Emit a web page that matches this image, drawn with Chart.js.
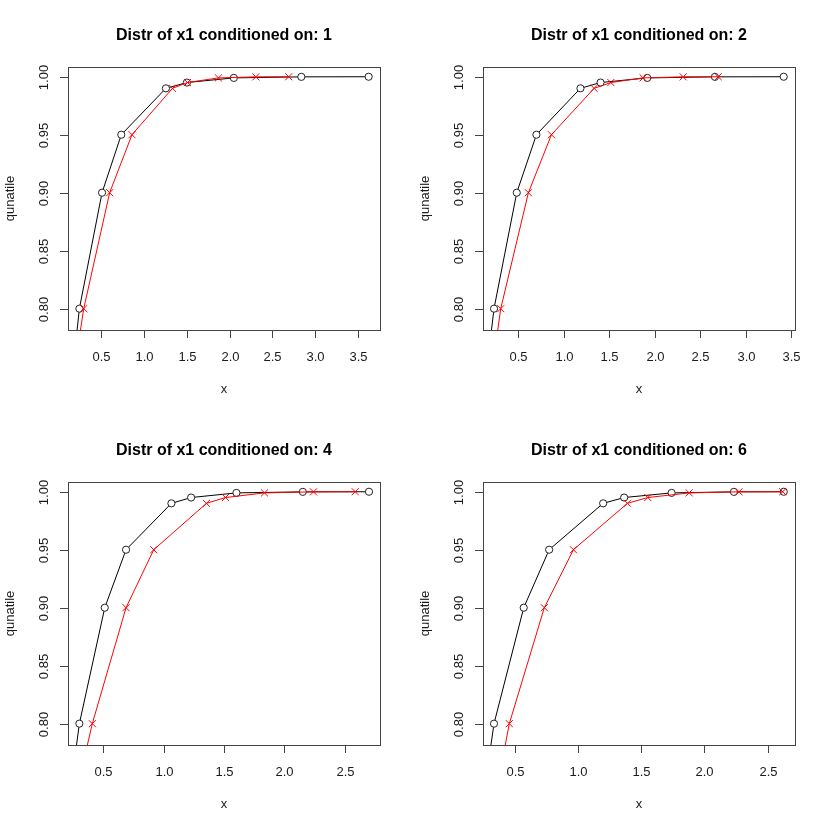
<!DOCTYPE html>
<html>
<head>
<meta charset="utf-8">
<script src="https://cdn.jsdelivr.net/npm/chart.js@4"></script>
<style>
    body { margin: 0; background: #fff; }
    .grid { position: relative; width: 830px; height: 830px; }
    .panel { position: absolute; width: 415px; height: 415px; }
</style>
</head>
<body>
<div class="grid" id="grid"></div>
<script>
// quantile levels (y) and the x value of each level, per conditioning value
const conditions = [1, 2, 4, 6];
const quantiles = [0.75, 0.8, 0.9, 0.95, 0.99, 0.995, 0.999, 0.9999, 1];

const black1 = [0.17, 0.243, 0.508, 0.733, 1.255, 1.500, 2.049, 2.838, 3.625];
const red1   = [0.19, 0.294, 0.597, 0.858, 1.332, 1.507, 1.869, 2.306, 2.691];
const black2 = [0.16, 0.236, 0.486, 0.702, 1.186, 1.407, 1.920, 2.664, 3.420];
const red2   = [0.22, 0.310, 0.614, 0.867, 1.336, 1.520, 1.875, 2.315, 2.700];
const black4 = [0.24, 0.304, 0.514, 0.690, 1.065, 1.228, 1.603, 2.152, 2.699];
const red4   = [0.30, 0.411, 0.690, 0.919, 1.355, 1.512, 1.835, 2.240, 2.585];
const black6 = [0.27, 0.336, 0.571, 0.772, 1.199, 1.365, 1.740, 2.233, 2.627];
const red6   = [0.37, 0.457, 0.734, 0.964, 1.391, 1.552, 1.879, 2.273, 2.619];

const xTicksWide = [0.5, 1.0, 1.5, 2.0, 2.5, 3.0, 3.5];
const xTicksNarrow = [0.5, 1.0, 1.5, 2.0, 2.5];
const yTicks = [0.80, 0.85, 0.90, 0.95, 1.00];

const panels = [
    { cond: conditions[0], black: black1, red: red1, xTicks: xTicksWide, xMin: 0.11, xMax: 3.758, left: 0, top: 0 },
    { cond: conditions[1], black: black2, red: red2, xTicks: xTicksWide, xMin: 0.115, xMax: 3.544, left: 415, top: 0 },
    { cond: conditions[2], black: black4, red: red4, xTicks: xTicksNarrow, xMin: 0.21, xMax: 2.79, left: 0, top: 415 },
    { cond: conditions[3], black: black6, red: red6, xTicks: xTicksNarrow, xMin: 0.249, xMax: 2.716, left: 415, top: 415 },
];

const FONT = '"Liberation Sans", Arial, Helvetica, sans-serif';

// base-graphics style frame, ticks and labels, placed with the chart's scales
const rAxes = {
    id: 'rAxes',
    afterDraw(chart, args, opts) {
        const ctx = chart.ctx;
        const a = chart.chartArea;
        const xs = chart.scales.x, ys = chart.scales.y;
        const seg = (x1, y1, x2, y2) => { ctx.beginPath(); ctx.moveTo(x1, y1); ctx.lineTo(x2, y2); ctx.stroke(); };

        ctx.save();
        ctx.strokeStyle = '#444';
        ctx.lineWidth = 1;
        ctx.strokeRect(a.left + 0.5, a.top + 0.5, a.right - a.left, a.bottom - a.top);

        ctx.fillStyle = '#1a1a1a';
        ctx.font = `13px ${FONT}`;
        ctx.textAlign = 'center';
        ctx.textBaseline = 'alphabetic';

        opts.xTicks.forEach(v => {
            const px = Math.round(xs.getPixelForValue(v)) + 0.5;
            seg(px, a.bottom, px, a.bottom + 8);
            ctx.fillText(v.toFixed(1), px, a.bottom + 31);
        });

        yTicks.forEach(v => {
            const py = Math.round(ys.getPixelForValue(v)) + 0.5;
            seg(a.left - 8, py, a.left, py);
            ctx.save();
            ctx.translate(a.left - 20, py);
            ctx.rotate(-Math.PI / 2);
            ctx.fillText(v.toFixed(2), 0, 0);
            ctx.restore();
        });

        const cx = (a.left + a.right) / 2;
        ctx.fillText('x', cx, a.bottom + 63);

        ctx.save();
        ctx.translate(14, (a.top + a.bottom) / 2);
        ctx.rotate(-Math.PI / 2);
        ctx.fillText('qunatile', 0, 0);
        ctx.restore();

        ctx.fillStyle = '#000';
        ctx.font = `bold 16px ${FONT}`;
        ctx.fillText(opts.title, cx, 40);
        ctx.restore();
    },
};

const toPoints = xsArr => xsArr.map((x, i) => ({ x, y: quantiles[i] }));

panels.forEach((p, idx) => {
    const box = document.createElement('div');
    box.className = 'panel';
    box.style.left = p.left + 'px';
    box.style.top = p.top + 'px';
    box.innerHTML = `<canvas id="c${idx}" width="415" height="415"></canvas>`;
    document.getElementById('grid').appendChild(box);

    new Chart(document.getElementById('c' + idx).getContext('2d'), {
        type: 'line',
        data: {
            datasets: [
                {
                    data: toPoints(p.black),
                    borderColor: '#000',
                    borderWidth: 1,
                    pointStyle: 'circle',
                    pointRadius: 3.6,
                    pointBorderColor: '#222',
                    pointBackgroundColor: '#fff',
                    pointBorderWidth: 1,
                    order: 1,
                },
                {
                    data: toPoints(p.red),
                    borderColor: '#ff0000',
                    borderWidth: 1,
                    pointStyle: 'crossRot',
                    pointRadius: 5,
                    pointBorderColor: '#ff0000',
                    pointBorderWidth: 1,
                    order: 0,
                },
            ],
        },
        options: {
            responsive: false,
            animation: false,
            layout: { padding: { left: 68, top: 67, right: 35, bottom: 85 } },
            plugins: {
                legend: { display: false },
                tooltip: { enabled: false },
                rAxes: { title: 'Distr of x1 conditioned on: ' + p.cond, xTicks: p.xTicks },
            },
            scales: {
                x: { type: 'linear', display: false, min: p.xMin, max: p.xMax },
                y: { type: 'linear', display: false, min: 0.7816, max: 1.0084 },
            },
        },
        plugins: [rAxes],
    });
});
</script>
</body>
</html>
